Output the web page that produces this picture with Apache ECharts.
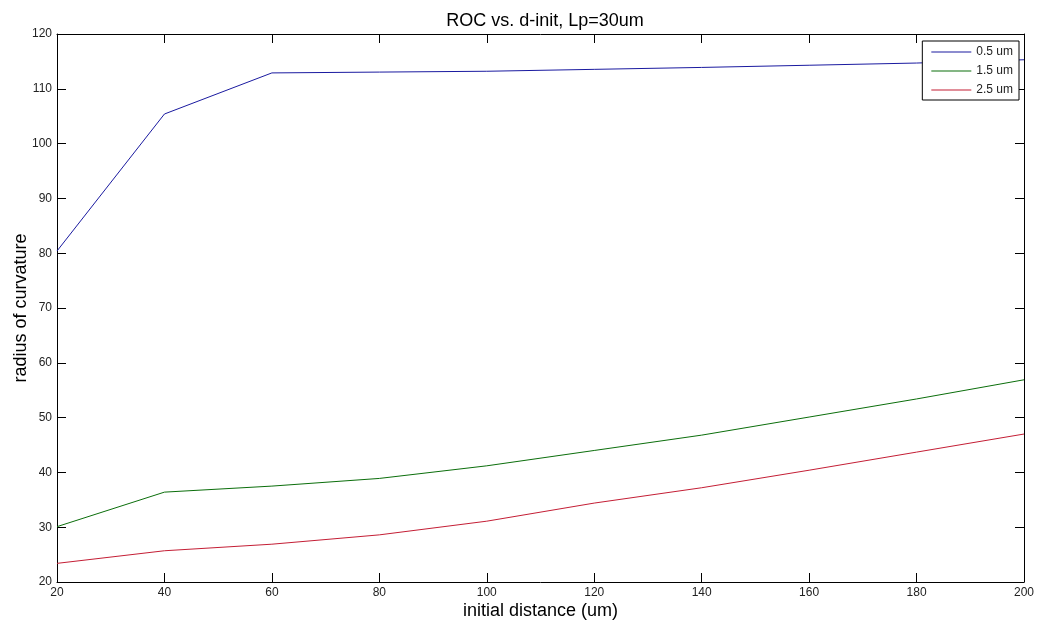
<!DOCTYPE html>
<html>
<head>
<meta charset="utf-8">
<script src="https://cdn.jsdelivr.net/npm/echarts@6/dist/echarts.min.js"></script>
<style>
html,body{margin:0;padding:0;background:#fff;}
#chart{width:1039px;height:626px;}
</style>
</head>
<body>
<div id="chart"></div>
<script>
var xValues = [20, 40, 60, 80, 100, 120, 140, 160, 180, 200];
var series05 = [80.4, 105.4, 112.9, 113.05, 113.2, 113.55, 113.9, 114.3, 114.7, 115.3];
var series15 = [30.1, 36.4, 37.5, 38.9, 41.2, 44.0, 46.8, 50.1, 53.4, 56.9];
var series25 = [23.4, 25.7, 26.9, 28.6, 31.1, 34.4, 37.2, 40.4, 43.7, 47.0];
var seriesNames = ['0.5 um', '1.5 um', '2.5 um'];
var seriesColors = ['#1a1aa0', '#0b6e0b', '#c41e35'];
var titleText = 'ROC vs. d-init, Lp=30um';
var xName = 'initial distance (um)';
var yName = 'radius of curvature';

function pairs(vals){ return xValues.map(function(x,i){ return [x, vals[i]]; }); }

var font = 'Liberation Sans, Arial, sans-serif';
var chart = echarts.init(document.getElementById('chart'));
var axisLine = {show:true, lineStyle:{color:'#000', width:1}};
var tick = {show:true, inside:true, length:9, lineStyle:{color:'#000'}};
var label = {color:'#222', fontSize:12, fontFamily:font};

chart.setOption({
  animation:false,
  backgroundColor:'#fff',
  title:{text:titleText, left:540, textAlign:'center', top:7, textStyle:{fontSize:18, fontWeight:'normal', color:'#000', fontFamily:font}},
  grid:{left:57, right:15, top:34, bottom:44, show:false, containLabel:false, outerBoundsMode:'none'},
  legend:{
    right:20, top:41, orient:'vertical', itemWidth:40, itemHeight:1, itemGap:7, itemTextGap:3,
    icon:'rect',
    padding:[5,6,4,9], borderColor:'#000', borderWidth:1, backgroundColor:'#fff',
    textStyle:{fontSize:12, lineHeight:12, color:'#222', fontFamily:font},
    data:seriesNames
  },
  xAxis:[
    {type:'value', min:20, max:200, interval:20, position:'bottom',
     axisLine:axisLine, axisTick:tick, axisLabel:Object.assign({margin:5}, label), splitLine:{show:false},
     name:xName, nameLocation:'middle', nameGap:20, nameMoveOverlap:false, nameTextStyle:{fontSize:18, color:'#000', fontFamily:font}},
    {type:'value', min:20, max:200, interval:20, position:'top',
     axisLine:axisLine, axisTick:tick, axisLabel:{show:false}, splitLine:{show:false}}
  ],
  yAxis:[
    {type:'value', min:20, max:120, interval:10, position:'left',
     axisLine:axisLine, axisTick:tick, axisLabel:Object.assign({margin:5}, label), splitLine:{show:false},
     name:yName, nameLocation:'middle', nameGap:27, nameMoveOverlap:false, nameTextStyle:{fontSize:18, color:'#000', fontFamily:font}},
    {type:'value', min:20, max:120, interval:10, position:'right',
     axisLine:axisLine, axisTick:tick, axisLabel:{show:false}, splitLine:{show:false}}
  ],
  series:[
    {name:seriesNames[0], type:'line', data:pairs(series05), symbol:'none', lineStyle:{width:1, color:seriesColors[0]}, itemStyle:{color:seriesColors[0]}},
    {name:seriesNames[1], type:'line', data:pairs(series15), symbol:'none', lineStyle:{width:1, color:seriesColors[1]}, itemStyle:{color:seriesColors[1]}},
    {name:seriesNames[2], type:'line', data:pairs(series25), symbol:'none', lineStyle:{width:1, color:seriesColors[2]}, itemStyle:{color:seriesColors[2]}}
  ]
});
</script>
</body>
</html>
